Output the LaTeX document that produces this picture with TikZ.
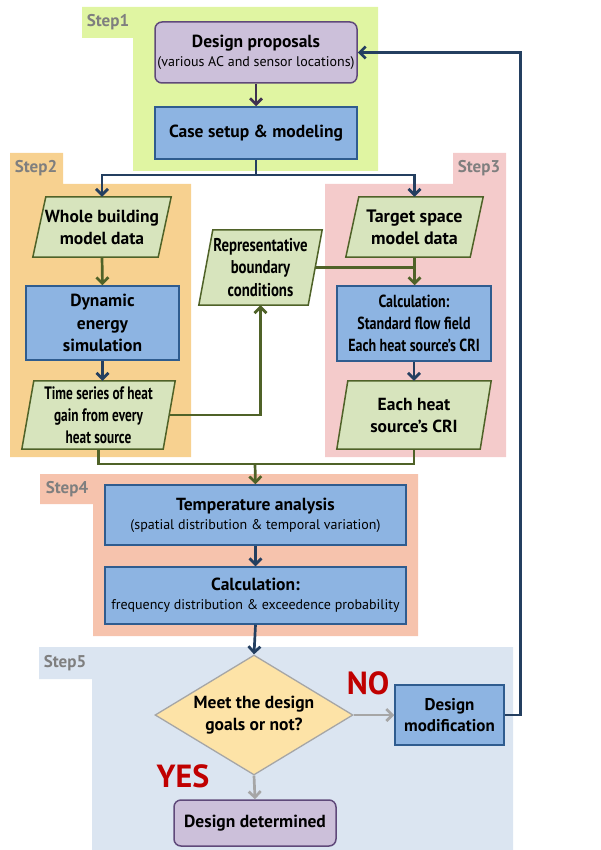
\documentclass[tikz,border=0pt]{standalone}
\usepackage{fontspec}
\setmainfont{PT Sans}
\newfontfamily\cond[FakeStretch=0.8]{PT Sans}
\newfontfamily\condx[FakeStretch=0.74]{PT Sans}
\usetikzlibrary{arrows.meta,shapes.geometric,calc}
\definecolor{bgone}{HTML}{E0F5A2}
\definecolor{bgtwo}{HTML}{F7D190}
\definecolor{bgthree}{HTML}{F4CBCB}
\definecolor{bgfour}{HTML}{F6C3AD}
\definecolor{bgfive}{HTML}{DBE5F1}
\definecolor{bluefill}{HTML}{8DB4E2}
\definecolor{blueline}{HTML}{2F5C8F}
\definecolor{greenfill}{HTML}{D7E4BD}
\definecolor{greenline}{HTML}{4F6228}
\definecolor{purfill}{HTML}{CCC0DA}
\definecolor{purline}{HTML}{5F497A}
\definecolor{purarr}{HTML}{3F3151}
\definecolor{navy}{HTML}{243F60}
\definecolor{diafill}{HTML}{FDE3A7}
\definecolor{grayline}{HTML}{A6A6A6}
\definecolor{stepgray}{HTML}{7F7F7F}
\definecolor{nored}{HTML}{C00000}
\pgfdeclarelayer{bg}
\pgfsetlayers{bg,main}
\tikzset{
  bluebox/.style={draw=blueline, line width=1.5pt, fill=bluefill, align=center, inner sep=0pt,
    font=\bfseries\fontsize{17.5}{20}\selectfont},
  purbox/.style={draw=purline, line width=1.5pt, fill=purfill, rounded corners=7pt, align=center, inner sep=0pt,
    font=\bfseries\fontsize{17.5}{20}\selectfont},
  datanode/.style={align=center, inner sep=0pt, font=\bfseries\fontsize{17.5}{22}\selectfont},
  paraline/.style={draw=greenline, line width=1.5pt, fill=greenfill},
  diabox/.style={shape=diamond, aspect=1.65, draw=grayline, line width=1.3pt, fill=diafill, align=center, inner sep=0pt,
    font=\bfseries\fontsize{17.5}{22}\selectfont},
  steplabel/.style={text=stepgray, font=\bfseries\fontsize{17}{20}\selectfont, inner sep=0pt},
  answer/.style={text=nored, font=\bfseries\fontsize{32}{36}\selectfont, inner sep=0pt},
  tip/.style={-{Straight Barb[length=6pt,width=12pt]}},
  navyarrow/.style={draw=navy, line width=2.7pt, tip},
  navyline/.style={draw=navy, line width=2.7pt},
  purarrow/.style={draw=purarr, line width=2.7pt, tip},
  greenarrow/.style={draw=greenline, line width=2.7pt, tip},
  greenconn/.style={draw=greenline, line width=2.7pt},
  grayarrow/.style={draw=grayline, line width=2.7pt, tip},
}
\newcommand\paradraw[2]{%
  \begin{pgfonlayer}{bg}
  \draw[paraline] ([xshift=#2]#1.north west) -- (#1.north east) -- ([xshift=-#2]#1.south east) -- (#1.south west) -- cycle;
  \end{pgfonlayer}}
\begin{document}
\begin{tikzpicture}[x=1pt,y=-1pt]
\useasboundingbox (0,0) rectangle (601,850);
\begin{pgfonlayer}{bg}
\fill[bgone] (82,7) -- (378,7) -- (378,171) -- (133,171) -- (133,38) -- (82,38) -- cycle;
\fill[bgtwo] (10,153) -- (63,153) -- (63,184) -- (191,184) -- (191,457) -- (10,457) -- cycle;
\fill[bgthree] (453,153) -- (506,153) -- (506,457) -- (325,457) -- (325,184) -- (453,184) -- cycle;
\fill[bgfour] (40,474) -- (418,474) -- (418,636) -- (93,636) -- (93,504) -- (40,504) -- cycle;
\fill[bgfive] (39,647) -- (513,647) -- (513,850) -- (92,850) -- (92,679) -- (39,679) -- cycle;
\end{pgfonlayer}

\node[steplabel] (s1) at (108,22) {Step1};
\node[steplabel] (s2) at (36,168) {Step2};
\node[steplabel] (s3) at (479,168) {Step3};
\node[steplabel] (s4) at (67,489) {Step4};
\node[steplabel] (s5) at (65,663) {Step5};

\node[purbox, minimum width=202pt, minimum height=61pt] (dp) at (256,52.5)
  {Design proposals\\[-1pt]{\mdseries\fontsize{14}{16}\selectfont (various AC and sensor locations)}};
\node[bluebox, minimum width=202pt, minimum height=52pt] (cs) at (256,133) {Case setup \& modeling};

\node[datanode, minimum width=138pt, minimum height=60pt] (wb) at (102,227) {Whole building\\model data};
\paradraw{wb}{13pt}
\node[bluebox, minimum width=153pt, minimum height=74pt, font=\bfseries\fontsize{17.5}{22.5}\selectfont] (des) at (102.5,323) {Dynamic\\energy\\simulation};
\node[datanode, minimum width=153pt, minimum height=68pt, font=\condx\bfseries\fontsize{18}{22}\selectfont] (tsr) at (98.5,415) {Time series of heat\\gain from every\\heat source};
\paradraw{tsr}{12pt}

\node[datanode, minimum width=123pt, minimum height=75pt, font=\cond\bfseries\fontsize{18.5}{22.5}\selectfont] (rep) at (260.5,267.5) {Representative\\boundary\\conditions};
\paradraw{rep}{14pt}

\node[datanode, minimum width=137pt, minimum height=60pt, font=\bfseries\fontsize{18}{22}\selectfont] (tg) at (414.5,227) {Target space\\model data};
\paradraw{tg}{13pt}
\node[bluebox, minimum width=154pt, minimum height=75pt, font=\cond\bfseries\fontsize{17.5}{22}\selectfont] (c3) at (414,323.5) {Calculation:\\Standard flow field\\Each heat source’s CRI};
\node[datanode, minimum width=154pt, minimum height=68pt] (cri) at (414,415) {Each heat\\source’s CRI};
\paradraw{cri}{11pt}

\node[bluebox, minimum width=301pt, minimum height=60pt] (ta) at (255.5,515)
  {Temperature analysis\\[-1pt]{\mdseries\fontsize{14}{16}\selectfont (spatial distribution \& temporal variation)}};
\node[bluebox, minimum width=301pt, minimum height=57pt] (c4) at (255.5,595.5)
  {Calculation:\\[-1pt]{\mdseries\fontsize{14}{16}\selectfont frequency distribution \& exceedence probability}};

\node[diabox, minimum width=198pt, minimum height=120pt] (dia) at (254,715) {Meet the design\\goals or not?};
\node[bluebox, minimum width=109pt, minimum height=60pt, font=\bfseries\fontsize{17}{21}\selectfont] (mod) at (449.5,715) {Design\\modification};
\node[purbox, minimum width=162pt, minimum height=46pt] (det) at (255,823) {Design determined};

\node[answer] (no) at (368,683) {NO};
\node[answer] (yes) at (183,776) {YES};

\coordinate (split) at (256,175);
\coordinate (mrg) at (255,464);

\draw[purarrow] (dp) -- (cs);
\draw[navyline] (cs.south) -- (split);
\draw[navyarrow] (split) -| (wb.north);
\draw[navyarrow] (split) -| (tg.north);
\draw[greenarrow] (wb.south) -- (des.north);
\draw[navyarrow] (des.south) -- (tsr.north -| des.south);
\draw[greenarrow] (tg.south) -- (c3.north -| tg.south);
\draw[greenconn] ([xshift=-7pt]rep.east) -- (rep.east -| tg.south);
\draw[navyarrow] (c3.south) -- (cri.north);
\draw[greenarrow] ([xshift=-6pt]tsr.east) -| (rep.south);
\draw[greenconn] (tsr.south) |- (mrg) -| (cri.south);
\draw[greenarrow] (mrg) -- (ta.north);
\draw[navyarrow] (ta.south) -- (c4.north);
\draw[navyarrow] (c4.south) -- (dia.north);
\draw[grayarrow] (dia.east) -- (mod.west);
\draw[grayarrow] (dia.south) -- (det.north);
\draw[navyarrow] (mod.east) -- ++(16,0) |- (dp.east);
\end{tikzpicture}
\end{document}
